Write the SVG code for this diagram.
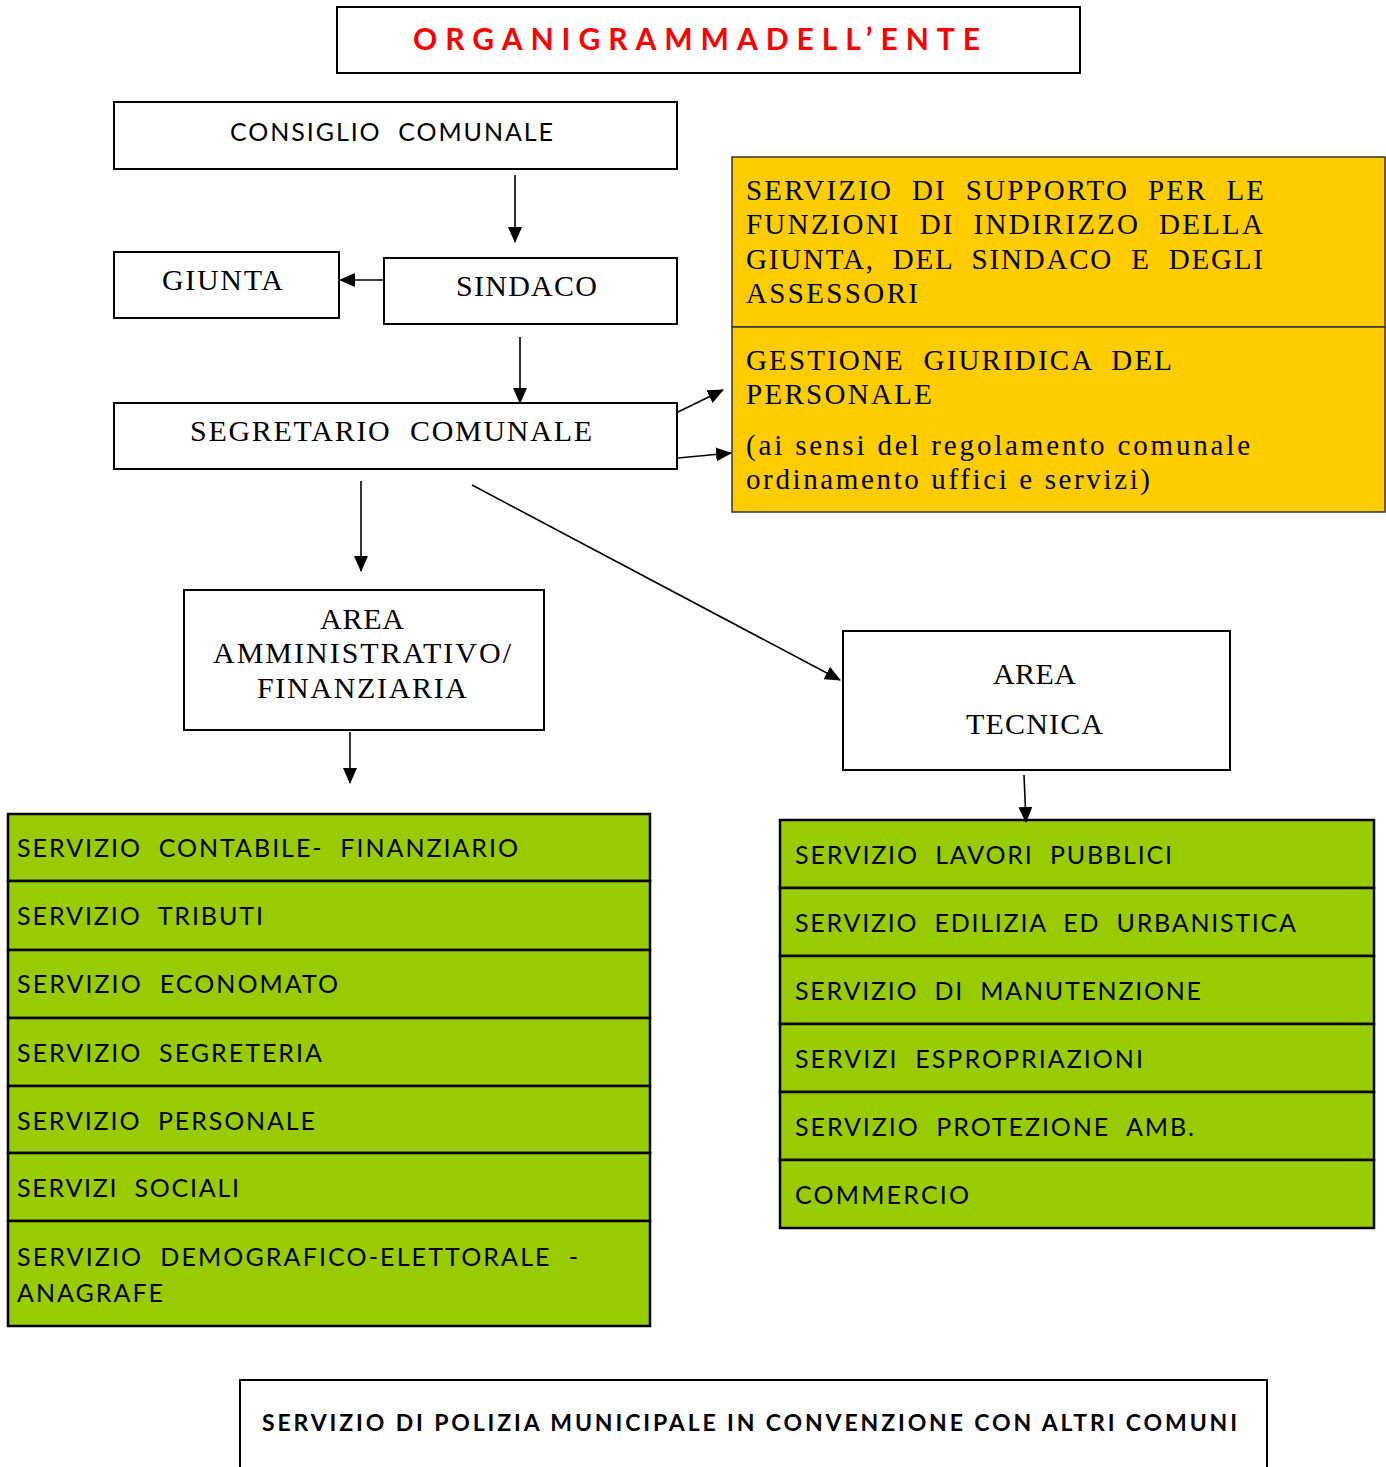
<svg xmlns="http://www.w3.org/2000/svg" width="1386" height="1467" viewBox="0 0 1386 1467">
<style>
.box{fill:#fff;stroke:#000;stroke-width:2}
.yel{fill:#FFCC00;stroke:#333;stroke-width:1.5}
.grn{fill:#99CC00;stroke:#000;stroke-width:2.5}
.sans{font-family:Lato,"Open Sans","Liberation Sans",sans-serif;font-size:25px;fill:#000;white-space:pre}
.serif{font-family:"Liberation Serif","DejaVu Serif",serif;font-size:30px;fill:#000;white-space:pre}
.ys{font-family:"Liberation Serif","DejaVu Serif",serif;font-size:29px;fill:#000;white-space:pre}
.conn{stroke:#000;stroke-width:1.6;fill:none;marker-end:url(#ah)}
</style>
<defs>
<marker id="ah" markerUnits="userSpaceOnUse" markerWidth="16" markerHeight="14" refX="15" refY="7" orient="auto">
<path d="M0,0 L16,7 L0,14 Z" fill="#000"/>
</marker>
</defs>
<rect width="1386" height="1467" fill="#fff"/>

<g id="title">
<rect class="box" x="337" y="7" width="743" height="66"/>
<text x="413" y="50" textLength="567" lengthAdjust="spacing" style="font-family:Lato,'Open Sans','Liberation Sans',sans-serif;font-weight:bold;font-size:30px;fill:#FF0000">ORGANIGRAMMADELL’ENTE</text>
</g>

<g id="consiglio">
<rect class="box" x="114" y="102" width="563" height="67"/>
<text class="sans" x="230" y="141" textLength="323" lengthAdjust="spacing">CONSIGLIO  COMUNALE</text>
</g>

<g id="giunta">
<rect class="box" x="114" y="252" width="225" height="66"/>
<text class="serif" x="162" y="290" textLength="121" lengthAdjust="spacing">GIUNTA</text>
</g>

<g id="sindaco">
<rect class="box" x="384" y="258" width="293" height="66"/>
<text class="serif" x="456" y="296" textLength="141" lengthAdjust="spacing">SINDACO</text>
</g>

<g id="segretario">
<rect class="box" x="114" y="403" width="563" height="66"/>
<text class="serif" x="190" y="441" textLength="402" lengthAdjust="spacing">SEGRETARIO  COMUNALE</text>
</g>

<g id="supporto">
<rect class="yel" x="732" y="157" width="653" height="170"/>
<text class="ys" x="746" y="200" textLength="518" lengthAdjust="spacing">SERVIZIO  DI  SUPPORTO  PER  LE</text>
<text class="ys" x="746" y="234" textLength="517" lengthAdjust="spacing">FUNZIONI  DI  INDIRIZZO  DELLA</text>
<text class="ys" x="746" y="269" textLength="517" lengthAdjust="spacing">GIUNTA,  DEL  SINDACO  E  DEGLI</text>
<text class="ys" x="746" y="303" textLength="172" lengthAdjust="spacing">ASSESSORI</text>
</g>

<g id="gestione">
<rect class="yel" x="732" y="327" width="653" height="185"/>
<text class="ys" x="746" y="370" textLength="426" lengthAdjust="spacing">GESTIONE  GIURIDICA  DEL</text>
<text class="ys" x="746" y="404" textLength="186" lengthAdjust="spacing">PERSONALE</text>
<text class="ys" x="746" y="455" textLength="504" lengthAdjust="spacing">(ai sensi del regolamento comunale</text>
<text class="ys" x="746" y="489" textLength="404" lengthAdjust="spacing">ordinamento uffici e servizi)</text>
</g>

<g id="area-amm">
<rect class="box" x="184" y="590" width="360" height="140"/>
<text class="serif" x="320" y="629" textLength="84" lengthAdjust="spacing">AREA</text>
<text class="serif" x="213" y="663" textLength="298" lengthAdjust="spacing">AMMINISTRATIVO/</text>
<text class="serif" x="257" y="698" textLength="210" lengthAdjust="spacing">FINANZIARIA</text>
</g>

<g id="area-tec">
<rect class="box" x="843" y="631" width="387" height="139"/>
<text class="serif" x="993" y="684" textLength="83" lengthAdjust="spacing">AREA</text>
<text class="serif" x="966" y="734" textLength="137" lengthAdjust="spacing">TECNICA</text>
</g>

<g id="servizi-amm">
<rect class="grn" x="8" y="814" width="642" height="67"/>
<rect class="grn" x="8" y="881" width="642" height="69"/>
<rect class="grn" x="8" y="950" width="642" height="68"/>
<rect class="grn" x="8" y="1018" width="642" height="68"/>
<rect class="grn" x="8" y="1086" width="642" height="67"/>
<rect class="grn" x="8" y="1153" width="642" height="68"/>
<rect class="grn" x="8" y="1221" width="642" height="105"/>
<text class="sans" x="17" y="857" textLength="501" lengthAdjust="spacing">SERVIZIO  CONTABILE-  FINANZIARIO</text>
<text class="sans" x="17" y="925" textLength="246" lengthAdjust="spacing">SERVIZIO  TRIBUTI</text>
<text class="sans" x="17" y="993" textLength="321" lengthAdjust="spacing">SERVIZIO  ECONOMATO</text>
<text class="sans" x="17" y="1062" textLength="305" lengthAdjust="spacing">SERVIZIO  SEGRETERIA</text>
<text class="sans" x="17" y="1130" textLength="298" lengthAdjust="spacing">SERVIZIO  PERSONALE</text>
<text class="sans" x="17" y="1197" textLength="222" lengthAdjust="spacing">SERVIZI  SOCIALI</text>
<text class="sans" x="17" y="1266" textLength="561" lengthAdjust="spacing">SERVIZIO  DEMOGRAFICO-ELETTORALE  -</text>
<text class="sans" x="17" y="1302" textLength="146" lengthAdjust="spacing">ANAGRAFE</text>
</g>

<g id="servizi-tec">
<rect class="grn" x="780" y="820" width="594" height="68"/>
<rect class="grn" x="780" y="888" width="594" height="68"/>
<rect class="grn" x="780" y="956" width="594" height="68"/>
<rect class="grn" x="780" y="1024" width="594" height="68"/>
<rect class="grn" x="780" y="1092" width="594" height="68"/>
<rect class="grn" x="780" y="1160" width="594" height="68"/>
<text class="sans" x="795" y="864" textLength="377" lengthAdjust="spacing">SERVIZIO  LAVORI  PUBBLICI</text>
<text class="sans" x="795" y="932" textLength="501" lengthAdjust="spacing">SERVIZIO  EDILIZIA  ED  URBANISTICA</text>
<text class="sans" x="795" y="1000" textLength="406" lengthAdjust="spacing">SERVIZIO  DI  MANUTENZIONE</text>
<text class="sans" x="795" y="1068" textLength="348" lengthAdjust="spacing">SERVIZI  ESPROPRIAZIONI</text>
<text class="sans" x="795" y="1136" textLength="399" lengthAdjust="spacing">SERVIZIO  PROTEZIONE  AMB.</text>
<text class="sans" x="795" y="1204" textLength="174" lengthAdjust="spacing">COMMERCIO</text>
</g>

<g id="polizia">
<rect class="box" x="240" y="1380" width="1027" height="100"/>
<text x="262" y="1431" textLength="975" lengthAdjust="spacing" style="font-family:Lato,'Open Sans','Liberation Sans',sans-serif;font-weight:bold;font-size:23px;fill:#000">SERVIZIO DI POLIZIA MUNICIPALE IN CONVENZIONE CON ALTRI COMUNI</text>
</g>

<g id="connectors">
<line class="conn" x1="515" y1="175" x2="515" y2="242"/>
<line class="conn" x1="384" y1="280" x2="340" y2="280"/>
<line class="conn" x1="520" y1="337" x2="520" y2="403"/>
<line class="conn" x1="678" y1="412" x2="723" y2="390"/>
<line class="conn" x1="678" y1="458" x2="731" y2="453"/>
<line class="conn" x1="361" y1="481" x2="361" y2="571"/>
<line class="conn" x1="472" y1="485" x2="840" y2="680"/>
<line class="conn" x1="350" y1="732" x2="350" y2="783"/>
<line class="conn" x1="1024" y1="775" x2="1026" y2="822"/>
</g>
</svg>
